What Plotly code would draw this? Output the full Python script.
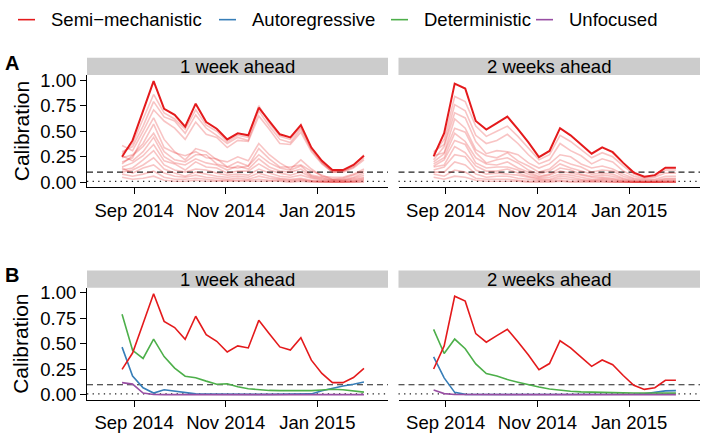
import plotly.graph_objects as go

# ---------------- data ----------------
dates = ["2014-08-24", "2014-08-31", "2014-09-07", "2014-09-14", "2014-09-21", "2014-09-28",
         "2014-10-05", "2014-10-12", "2014-10-19", "2014-10-26", "2014-11-02", "2014-11-09",
         "2014-11-16", "2014-11-23", "2014-11-30", "2014-12-07", "2014-12-14", "2014-12-21",
         "2014-12-28", "2015-01-04", "2015-01-11", "2015-01-18", "2015-01-25", "2015-02-01"]

horizons = ["1 week ahead", "2 weeks ahead"]
legend_names = ["Semi\u2212mechanistic", "Autoregressive", "Deterministic", "Unfocused"]

semi_1w = [0.25, 0.41, 0.70, 0.99, 0.72, 0.66, 0.545, 0.77, 0.59, 0.525, 0.42, 0.48,
           0.46, 0.73, 0.60, 0.47, 0.44, 0.56, 0.34, 0.21, 0.12, 0.12, 0.17, 0.26]
semi_2w = [0.254, 0.48, 0.966, 0.918, 0.60, 0.516, 0.58, 0.643, 0.52, 0.39, 0.247, 0.307,
           0.53, 0.46, 0.37, 0.28, 0.342, 0.295, 0.19, 0.095, 0.054, 0.07, 0.143, 0.143]

auto_1w = [0.468, 0.185, 0.07, 0.018, 0.05, 0.035, 0.018, 0.01, 0.008, 0.006, 0.005, 0.005,
           0.005, 0.005, 0.005, 0.005, 0.005, 0.006, 0.01, 0.04, 0.065, 0.088, 0.104, 0.126]
auto_2w = [0.373, 0.167, 0.025, 0.005, 0.004, 0.004, 0.004, 0.004, 0.004, 0.004, 0.004, 0.004,
           0.004, 0.004, 0.004, 0.004, 0.004, 0.004, 0.004, 0.006, 0.012, 0.026, 0.04, 0.042]

det_1w = [0.79, 0.437, 0.357, 0.547, 0.375, 0.262, 0.183, 0.168, 0.135, 0.105, 0.11, 0.08,
          0.06, 0.049, 0.044, 0.042, 0.04, 0.04, 0.042, 0.048, 0.055, 0.05, 0.038, 0.027]
det_2w = [0.642, 0.405, 0.547, 0.452, 0.304, 0.209, 0.185, 0.15, 0.125, 0.10, 0.078, 0.058,
          0.045, 0.036, 0.03, 0.026, 0.023, 0.021, 0.02, 0.019, 0.018, 0.018, 0.018, 0.018]

unf_1w = [0.12, 0.106, 0.018, 0.004, 0.003, 0.003, 0.003, 0.003, 0.003, 0.003, 0.003, 0.003,
          0.003, 0.003, 0.003, 0.003, 0.003, 0.003, 0.003, 0.003, 0.003, 0.003, 0.003, 0.003]
unf_2w = [0.047, 0.013, 0.004, 0.003, 0.003, 0.003, 0.003, 0.003, 0.003, 0.003, 0.003, 0.003,
          0.003, 0.003, 0.003, 0.003, 0.003, 0.003, 0.003, 0.003, 0.003, 0.003, 0.003, 0.003]

# alternative semi-mechanistic variants (light lines, panel A)
variants_1w = [
    [0.28, 0.38, 0.62, 0.86, 0.68, 0.62, 0.52, 0.71, 0.56, 0.50, 0.40, 0.46, 0.44, 0.75, 0.58, 0.45, 0.42, 0.54, 0.33, 0.20, 0.11, 0.11, 0.16, 0.27],
    [0.30, 0.35, 0.55, 0.79, 0.64, 0.60, 0.48, 0.66, 0.53, 0.46, 0.38, 0.44, 0.41, 0.70, 0.55, 0.42, 0.39, 0.52, 0.32, 0.19, 0.10, 0.11, 0.15, 0.24],
    [0.36, 0.31, 0.50, 0.71, 0.60, 0.53, 0.42, 0.59, 0.47, 0.44, 0.34, 0.41, 0.40, 0.65, 0.52, 0.38, 0.37, 0.49, 0.30, 0.18, 0.10, 0.10, 0.14, 0.22],
    [0.20, 0.24, 0.45, 0.63, 0.42, 0.30, 0.22, 0.33, 0.30, 0.22, 0.20, 0.25, 0.21, 0.38, 0.27, 0.19, 0.13, 0.22, 0.13, 0.06, 0.05, 0.05, 0.08, 0.13],
    [0.24, 0.27, 0.38, 0.57, 0.34, 0.29, 0.26, 0.30, 0.24, 0.23, 0.15, 0.20, 0.16, 0.33, 0.23, 0.15, 0.15, 0.17, 0.11, 0.07, 0.03, 0.04, 0.07, 0.11],
    [0.18, 0.26, 0.35, 0.48, 0.30, 0.22, 0.20, 0.27, 0.27, 0.18, 0.15, 0.14, 0.16, 0.27, 0.19, 0.14, 0.12, 0.16, 0.07, 0.05, 0.03, 0.03, 0.05, 0.09],
    [0.26, 0.21, 0.30, 0.44, 0.25, 0.19, 0.17, 0.23, 0.19, 0.17, 0.12, 0.16, 0.13, 0.23, 0.15, 0.11, 0.10, 0.13, 0.06, 0.04, 0.02, 0.02, 0.04, 0.07],
    [0.15, 0.19, 0.26, 0.37, 0.21, 0.18, 0.12, 0.20, 0.15, 0.14, 0.09, 0.11, 0.11, 0.18, 0.12, 0.09, 0.07, 0.10, 0.05, 0.03, 0.02, 0.02, 0.03, 0.05],
    [0.12, 0.14, 0.22, 0.31, 0.17, 0.12, 0.10, 0.13, 0.12, 0.09, 0.07, 0.08, 0.07, 0.13, 0.09, 0.06, 0.05, 0.07, 0.04, 0.02, 0.01, 0.01, 0.02, 0.04],
    [0.10, 0.12, 0.17, 0.24, 0.13, 0.09, 0.06, 0.10, 0.08, 0.06, 0.05, 0.06, 0.05, 0.09, 0.06, 0.04, 0.03, 0.04, 0.02, 0.01, 0.01, 0.01, 0.01, 0.03],
    [0.14, 0.09, 0.14, 0.17, 0.09, 0.06, 0.05, 0.07, 0.05, 0.04, 0.03, 0.04, 0.03, 0.06, 0.04, 0.03, 0.02, 0.03, 0.01, 0.01, 0.00, 0.00, 0.01, 0.02],
    [0.08, 0.06, 0.08, 0.11, 0.05, 0.03, 0.03, 0.04, 0.03, 0.02, 0.02, 0.02, 0.02, 0.03, 0.02, 0.02, 0.01, 0.02, 0.01, 0.00, 0.00, 0.00, 0.00, 0.01],
    [0.05, 0.03, 0.04, 0.06, 0.02, 0.01, 0.01, 0.02, 0.01, 0.01, 0.01, 0.01, 0.01, 0.01, 0.01, 0.01, 0.00, 0.01, 0.00, 0.00, 0.00, 0.00, 0.00, 0.00],
]
variants_2w = [
    [0.28, 0.42, 0.84, 0.79, 0.55, 0.45, 0.50, 0.55, 0.45, 0.34, 0.22, 0.27, 0.46, 0.40, 0.32, 0.24, 0.29, 0.25, 0.16, 0.08, 0.05, 0.06, 0.12, 0.12],
    [0.30, 0.37, 0.76, 0.70, 0.46, 0.38, 0.41, 0.47, 0.38, 0.27, 0.18, 0.22, 0.38, 0.31, 0.26, 0.18, 0.23, 0.20, 0.11, 0.06, 0.04, 0.05, 0.09, 0.09],
    [0.22, 0.35, 0.68, 0.63, 0.40, 0.28, 0.31, 0.30, 0.27, 0.19, 0.14, 0.18, 0.27, 0.25, 0.18, 0.14, 0.16, 0.13, 0.08, 0.04, 0.03, 0.03, 0.06, 0.06],
    [0.26, 0.29, 0.62, 0.53, 0.32, 0.26, 0.24, 0.29, 0.21, 0.16, 0.10, 0.13, 0.22, 0.18, 0.15, 0.10, 0.12, 0.11, 0.06, 0.03, 0.02, 0.02, 0.04, 0.04],
    [0.20, 0.28, 0.53, 0.49, 0.29, 0.19, 0.22, 0.24, 0.19, 0.12, 0.08, 0.11, 0.18, 0.14, 0.11, 0.08, 0.09, 0.08, 0.04, 0.02, 0.01, 0.01, 0.03, 0.03],
    [0.18, 0.24, 0.48, 0.40, 0.24, 0.18, 0.17, 0.20, 0.14, 0.10, 0.06, 0.08, 0.14, 0.12, 0.08, 0.06, 0.07, 0.06, 0.03, 0.01, 0.01, 0.01, 0.02, 0.02],
    [0.16, 0.22, 0.41, 0.37, 0.19, 0.14, 0.15, 0.15, 0.12, 0.08, 0.05, 0.07, 0.11, 0.09, 0.07, 0.05, 0.05, 0.04, 0.02, 0.01, 0.00, 0.00, 0.01, 0.01],
    [0.15, 0.17, 0.35, 0.29, 0.16, 0.11, 0.11, 0.13, 0.09, 0.06, 0.04, 0.05, 0.08, 0.07, 0.05, 0.03, 0.04, 0.03, 0.01, 0.00, 0.00, 0.00, 0.01, 0.01],
    [0.12, 0.15, 0.27, 0.25, 0.12, 0.08, 0.09, 0.08, 0.07, 0.05, 0.03, 0.03, 0.06, 0.05, 0.03, 0.02, 0.03, 0.02, 0.01, 0.00, 0.00, 0.00, 0.00, 0.00],
    [0.10, 0.10, 0.20, 0.17, 0.08, 0.05, 0.06, 0.06, 0.04, 0.03, 0.02, 0.02, 0.04, 0.03, 0.02, 0.01, 0.02, 0.01, 0.00, 0.00, 0.00, 0.00, 0.00, 0.00],
    [0.08, 0.06, 0.12, 0.10, 0.04, 0.03, 0.03, 0.03, 0.02, 0.01, 0.01, 0.01, 0.02, 0.01, 0.01, 0.01, 0.01, 0.00, 0.00, 0.00, 0.00, 0.00, 0.00, 0.00],
    [0.05, 0.03, 0.06, 0.05, 0.02, 0.01, 0.01, 0.01, 0.01, 0.00, 0.00, 0.00, 0.01, 0.00, 0.00, 0.00, 0.00, 0.00, 0.00, 0.00, 0.00, 0.00, 0.00, 0.00],
]

y_tickvals = [0, 0.25, 0.5, 0.75, 1.0]
y_ticktext = ["0.00", "0.25", "0.50", "0.75", "1.00"]
x_tickvals = ["2014-09-01", "2014-11-01", "2015-01-01"]
x_ticktext = ["Sep 2014", "Nov 2014", "Jan 2015"]
ref_dashed = 0.1
ref_dotted = 0.01

# ---------------- styling / layout ----------------
W, H = 704, 436
FONT = "Liberation Sans, Arial, Helvetica, sans-serif"
RED, BLUE, GREEN, PURPLE = "#E41A1C", "#377EB8", "#4DAF4A", "#984EA3"
PINK = "rgba(228,26,28,0.26)"
SMALL = 18.5


def px_x(p):
    return p / W


def px_y(p):
    return 1 - p / H


col_px = [(87.0, 388.0), (398.5, 700.0)]
row_px = [(71.7, 186.7), (289.3, 404.3)]   # plot area top/bottom in px
strip_px = [(54.0, 71.7), (271.7, 289.3)]

fig = go.Figure()


def ax_index(r, c):
    return r * 2 + c + 1


def axname(prefix, i):
    return prefix if i == 1 else f"{prefix}{i}"


series_B = {
    0: [(auto_1w, BLUE), (det_1w, GREEN), (unf_1w, PURPLE), (semi_1w, RED)],
    1: [(auto_2w, BLUE), (det_2w, GREEN), (unf_2w, PURPLE), (semi_2w, RED)],
}
variants = {0: variants_1w, 1: variants_2w}
semi = {0: semi_1w, 1: semi_2w}

for c in range(2):
    i = ax_index(0, c)
    xa, ya = axname("x", i), axname("y", i)
    for v in variants[c]:
        fig.add_trace(go.Scatter(x=dates, y=v, mode="lines", xaxis=xa, yaxis=ya,
                                 line=dict(color=PINK, width=1.6), showlegend=False,
                                 hoverinfo="skip"))
    fig.add_trace(go.Scatter(x=dates, y=semi[c], mode="lines", xaxis=xa, yaxis=ya,
                             line=dict(color=RED, width=2.0), showlegend=False))
    i = ax_index(1, c)
    xa, ya = axname("x", i), axname("y", i)
    for vals, col in series_B[c]:
        fig.add_trace(go.Scatter(x=dates, y=vals, mode="lines", xaxis=xa, yaxis=ya,
                                 line=dict(color=col, width=1.6), showlegend=False))

layout = dict(
    width=W, height=H,
    margin=dict(l=0, r=0, t=0, b=0),
    paper_bgcolor="white", plot_bgcolor="white",
    font=dict(family=FONT, size=SMALL, color="black"),
    showlegend=False,
)

shapes = []
annotations = []

for r in range(2):
    for c in range(2):
        i = ax_index(r, c)
        x0, x1 = col_px[c]
        top, bot = row_px[r]
        xkey = "xaxis" if i == 1 else f"xaxis{i}"
        ykey = "yaxis" if i == 1 else f"yaxis{i}"
        layout[xkey] = dict(
            domain=[px_x(x0), px_x(x1)], anchor=axname("y", i), type="date",
            range=["2014-07-31 16:00", "2015-02-17"],
            tickvals=x_tickvals, ticktext=x_ticktext,
            ticks="outside", ticklen=6, tickwidth=1.1, tickcolor="black",
            showline=True, linecolor="black", linewidth=1.1,
            showgrid=False, zeroline=False,
            tickfont=dict(size=SMALL, color="black", family=FONT),
        )
        ydict = dict(
            domain=[px_y(bot), px_y(top)], anchor=axname("x", i),
            range=[-0.05, 1.05], showgrid=False, zeroline=False,
            tickvals=y_tickvals, ticktext=y_ticktext,
        )
        if c == 0:
            ydict.update(ticks="outside", ticklen=6, tickwidth=1.1, tickcolor="black",
                         showline=True, linecolor="black", linewidth=1.1,
                         tickfont=dict(size=SMALL, color="black", family=FONT))
        else:
            ydict.update(showticklabels=False, ticks="", showline=False)
        layout[ykey] = ydict

        shapes.append(dict(type="line", xref=f"{axname('x', i)} domain", yref=axname("y", i),
                           x0=0, x1=1, y0=ref_dashed, y1=ref_dashed,
                           line=dict(color="#222222", width=1.1, dash="6px,4px"), layer="below"))
        shapes.append(dict(type="line", xref=f"{axname('x', i)} domain", yref=axname("y", i),
                           x0=0, x1=1, y0=ref_dotted, y1=ref_dotted,
                           line=dict(color="#222222", width=1.3, dash="1.3px,4.3px"), layer="below"))

        s0, s1 = strip_px[r]
        shapes.append(dict(type="rect", xref="paper", yref="paper",
                           x0=px_x(x0), x1=px_x(x1), y0=px_y(s1), y1=px_y(s0),
                           fillcolor="#CCCCCC", line=dict(width=0), layer="below"))
        annotations.append(dict(text=horizons[c], xref="paper", yref="paper",
                                x=px_x((x0 + x1) / 2), y=px_y((s0 + s1) / 2 + 0.5),
                                xanchor="center", yanchor="middle", showarrow=False,
                                font=dict(size=SMALL, color="black", family=FONT)))

    top, bot = row_px[r]
    annotations.append(dict(text="Calibration", xref="paper", yref="paper",
                            x=px_x(21), y=px_y((top + bot) / 2), textangle=-90,
                            xanchor="center", yanchor="middle", showarrow=False,
                            font=dict(size=21, color="black", family=FONT)))
    annotations.append(dict(text="<b>%s</b>" % "AB"[r], xref="paper", yref="paper",
                            x=px_x(3), y=px_y(strip_px[r][0] + 5), xanchor="left",
                            yanchor="middle", showarrow=False,
                            font=dict(size=20, color="black", family=FONT)))

leg_items = [(legend_names[0], RED, 18), (legend_names[1], BLUE, 219),
             (legend_names[2], GREEN, 391), (legend_names[3], PURPLE, 536)]
leg_y = 15
for name, col, lx in leg_items:
    shapes.append(dict(type="line", xref="paper", yref="paper",
                       x0=px_x(lx), x1=px_x(lx + 17), y0=px_y(leg_y), y1=px_y(leg_y),
                       line=dict(color=col, width=1.6)))
    annotations.append(dict(text=name, xref="paper", yref="paper",
                            x=px_x(lx + 31), y=px_y(leg_y), xanchor="left", yanchor="middle",
                            showarrow=False, font=dict(size=SMALL, color="black", family=FONT)))

layout["shapes"] = shapes
layout["annotations"] = annotations
fig.update_layout(**layout)

fig.write_html("out.html", config={"displayModeBar": False},
               post_script="document.body.style.margin='0px';")
